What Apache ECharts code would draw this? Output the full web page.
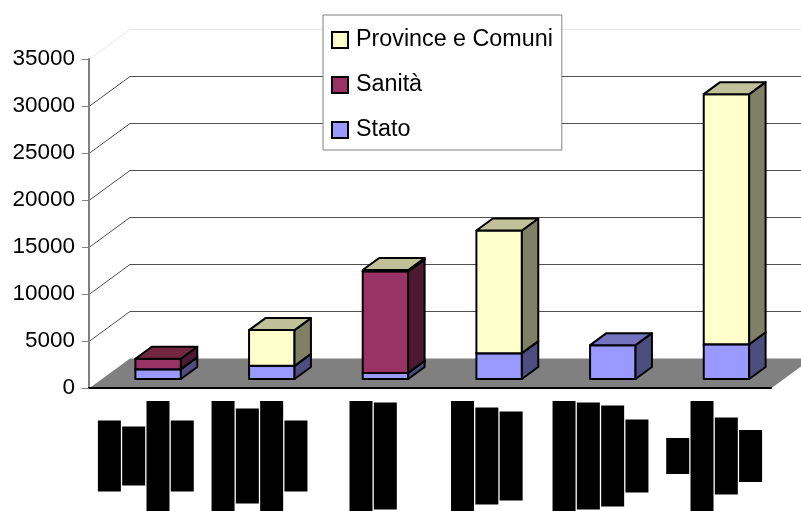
<!DOCTYPE html>
<html>
<head>
<meta charset="utf-8">
<script src="https://cdn.jsdelivr.net/npm/echarts@6/dist/echarts.min.js"></script>
<style>
  html, body { margin: 0; padding: 0; background: #fff; }
  #chart { width: 801px; height: 511px; }
</style>
</head>
<body>
<div id="chart"></div>
<script>
// ---- data ----
const categories = ['A', 'B', 'C', 'D', 'E', 'F'];
const stato    = [1050, 1400,   650,  2750, 3600,  3700];
const sanita   = [1100,    0, 10800,     0,    0,     0];
const province = [   0, 3800,   150, 13050,    0, 26600];
const yTicks = [0, 5000, 10000, 15000, 20000, 25000, 30000, 35000];
// category labels are printed as solid blocks; heights of each block per category
const labelBlocks = [
  [71, 59, 110, 71],
  [110, 95, 110, 71],
  [110, 107],
  [110, 97, 89],
  [110, 107, 101, 73],
  [36, 110, 77, 52]
];

// ---- 3D look ----
const FONT = '"Liberation Sans", Arial, sans-serif';
const DEPTH_X = 41, DEPTH_Y = -30;      // oblique offset from the front edge to the back wall
const BAR_FRONT = 0.3, BAR_BACK = 0.7;  // where the boxes sit inside the floor depth
const BAR_WIDTH = 0.4;                  // share of the category band

const layers = [
  { name: 'Stato',             values: stato,    front: '#9999FF', side: '#4D4D80', top: '#7373BF' },
  { name: 'Sanità',            values: sanita,   front: '#993366', side: '#4D1A33', top: '#732640' },
  { name: 'Province e Comuni', values: province, front: '#FFFFCC', side: '#808066', top: '#C0C099' }
];

// stacked [index, base, top] triples for each layer
const stackBase = categories.map(() => 0);
const layerData = layers.map(layer => {
  const out = [];
  layer.values.forEach((v, i) => {
    if (v > 0) out.push([i, stackBase[i], stackBase[i] + v]);
    stackBase[i] += v;
  });
  return out;
});

function boxRenderer(layer) {
  return function (params, api) {
    const i = api.value(0), lo = api.value(1), hi = api.value(2);
    const a = api.coord([i, lo]), b = api.coord([i, hi]);
    const w = api.size([1, 0])[0] * BAR_WIDTH;
    const ox = DEPTH_X * BAR_FRONT, oy = DEPTH_Y * BAR_FRONT;
    const dx = DEPTH_X * (BAR_BACK - BAR_FRONT), dy = DEPTH_Y * (BAR_BACK - BAR_FRONT);
    const x0 = a[0] - w / 2 + ox, x1 = x0 + w;
    const yb = a[1] + oy, yt = b[1] + oy;
    const st = { stroke: '#000', lineWidth: 2, lineJoin: 'round' };
    return {
      type: 'group',
      children: [
        { type: 'polygon', shape: { points: [[x0, yb], [x1, yb], [x1, yt], [x0, yt]] },
          style: Object.assign({ fill: layer.front }, st) },
        { type: 'polygon', shape: { points: [[x1, yb], [x1 + dx, yb + dy], [x1 + dx, yt + dy], [x1, yt]] },
          style: Object.assign({ fill: layer.side }, st) },
        { type: 'polygon', shape: { points: [[x0, yt], [x1, yt], [x1 + dx, yt + dy], [x0 + dx, yt + dy]] },
          style: Object.assign({ fill: layer.top }, st) }
      ]
    };
  };
}

// floor and back-wall gridlines, one element per value tick
function wallRenderer(params, api) {
  const cs = params.coordSys;
  const v = api.value(1);
  const y = Math.round(api.coord([0, v])[1]) + 0.5;
  const x0 = cs.x, x1 = cs.x + cs.width;
  if (v === 0) {
    return {
      type: 'polygon',
      shape: { points: [[x0, y], [x1, y], [x1 + DEPTH_X, y + DEPTH_Y], [x0 + DEPTH_X, y + DEPTH_Y]] },
      style: { fill: '#808080' }
    };
  }
  const top = v === yTicks[yTicks.length - 1];
  return {
    type: 'polyline',
    shape: { points: [[x0, y], [x0 + DEPTH_X, y + DEPTH_Y], [x1 + DEPTH_X, y + DEPTH_Y]] },
    style: { stroke: top ? '#e8e8e8' : '#505050', lineWidth: 1, fill: null }
  };
}

// rich-text styles for the block labels
const rich = { g: { width: 1.3, height: 1, fontSize: 1 } };
labelBlocks.flat().forEach(h => {
  rich['b' + h] = { width: 23, height: h, lineHeight: h, backgroundColor: '#000', fontSize: 1 };
});

const chart = echarts.init(document.getElementById('chart'), null, { renderer: 'canvas' });
chart.setOption({
  animation: false,
  backgroundColor: '#fff',
  grid: { left: 89, right: 30, top: 59, bottom: 122 },
  legend: {
    data: ['Province e Comuni', 'Sanità', 'Stato'],
    orient: 'vertical',
    left: 323,
    top: 15,
    icon: 'rect',
    itemWidth: 16,
    itemHeight: 16,
    itemGap: 11,
    padding: [8, 9, 3, 8],
    backgroundColor: '#fff',
    borderColor: '#808080',
    borderWidth: 1,
    selectedMode: false,
    textStyle: { fontFamily: FONT, fontSize: 23.3, lineHeight: 24, color: '#000', padding: [0, 0, 10, 3] }
  },
  xAxis: {
    type: 'category',
    data: categories,
    z: 5,
    axisLine: { lineStyle: { color: '#000', width: 2 } },
    axisTick: { length: 8, lineStyle: { color: '#000', width: 1 } },
    axisLabel: {
      interval: 0,
      margin: 13,
      formatter: (val, idx) => labelBlocks[idx].map(h => '{b' + h + '| }').join('{g| }'),
      rich: rich
    }
  },
  yAxis: {
    type: 'value',
    min: 0,
    max: 35000,
    interval: 5000,
    z: 5,
    axisLine: { show: true, lineStyle: { color: '#808080', width: 2 } },
    axisTick: { show: true, length: 7, lineStyle: { color: '#808080', width: 1 } },
    axisLabel: { fontFamily: FONT, fontSize: 22.5, color: '#000', margin: 14, formatter: v => String(v) },
    splitLine: { show: false }
  },
  series: [
    {
      type: 'custom',
      name: 'wall',
      silent: true,
      z: 1,
      clip: false,
      data: yTicks.map(v => [0, v]),
      encode: { x: 0, y: 1 },
      renderItem: wallRenderer
    }
  ].concat(layers.map((layer, k) => ({
    type: 'custom',
    name: layer.name,
    z: 2,
    clip: false,
    itemStyle: { color: layer.front, borderColor: '#000', borderWidth: 2 },
    data: layerData[k],
    encode: { x: 0, y: [1, 2] },
    renderItem: boxRenderer(layer)
  })))
});
</script>
</body>
</html>
